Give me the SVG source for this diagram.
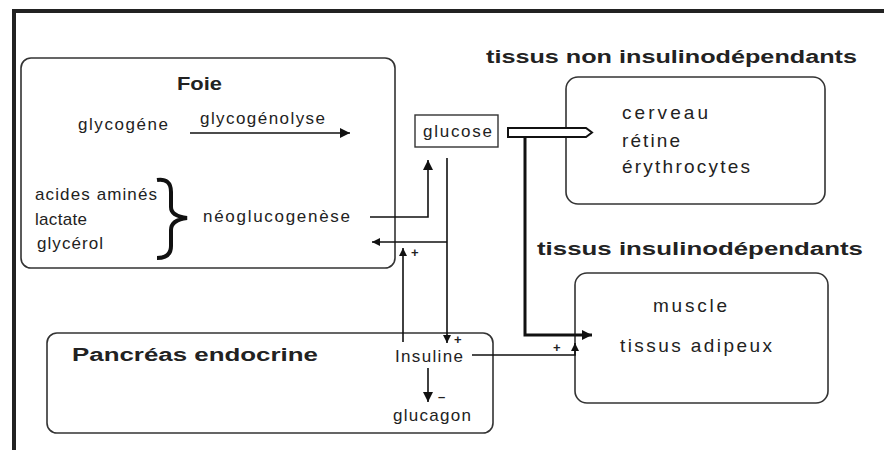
<svg xmlns="http://www.w3.org/2000/svg" width="884" height="450" viewBox="0 0 884 450">
<style>
  .box{fill:#fff;stroke:#333;stroke-width:1.6}
  .t{font-family:"Liberation Sans",Arial,sans-serif;font-size:17px;fill:#222}
  .r{font-size:19px}
  .b{font-family:"Liberation Sans",Arial,sans-serif;font-size:18px;font-weight:bold;fill:#222}
  .s{font-family:"Liberation Sans",Arial,sans-serif;font-size:13px;font-weight:bold;fill:#222}
  .ln{fill:none;stroke:#111;stroke-width:1.6}
  .thick{fill:none;stroke:#111;stroke-width:3}
</style>
<defs>
  <marker id="ah" markerUnits="userSpaceOnUse" markerWidth="12" markerHeight="12" refX="10" refY="5" orient="auto">
    <path d="M0,0 L10,5 L0,10 Z" fill="#111"/>
  </marker>
  <marker id="ahs" markerUnits="userSpaceOnUse" markerWidth="10" markerHeight="10" refX="8" refY="4" orient="auto">
    <path d="M0,0 L8,4 L0,8 Z" fill="#111"/>
  </marker>
</defs>
<rect width="884" height="450" fill="#fff"/>
<g id="frame">
  <path d="M14,450 V11 H884" fill="none" stroke="#222" stroke-width="4"/>
</g>
<g id="foie">
  <rect class="box" x="21" y="58" width="374" height="210" rx="10"/>
  <text class="b" x="177" y="90" font-size="19" textLength="45" lengthAdjust="spacingAndGlyphs">Foie</text>
  <text class="t" x="78" y="130" textLength="90" lengthAdjust="spacing">glycogéne</text>
  <text class="t" x="200" y="124" textLength="125" lengthAdjust="spacing">glycogénolyse</text>
  <text class="t" x="35" y="200" textLength="122" lengthAdjust="spacing">acides aminés</text>
  <text class="t" x="35" y="225" textLength="52" lengthAdjust="spacing">lactate</text>
  <text class="t" x="37" y="249" textLength="66" lengthAdjust="spacing">glycérol</text>
  <text class="t" x="203" y="222" textLength="147" lengthAdjust="spacing">néoglucogenèse</text>
  <path d="M157,180 Q171,178 171,192 L171,207 Q171,216 187,218 Q171,220 171,230 L171,246 Q171,258 157,258" fill="none" stroke="#111" stroke-width="4"/>
</g>
<g id="glucose">
  <rect x="415" y="115" width="83" height="32" fill="#fff" stroke="#333" stroke-width="1.4"/>
  <text class="t" x="423" y="137" textLength="69" lengthAdjust="spacing">glucose</text>
</g>
<g id="tissus-non-insulinodependants">
  <text class="b" x="486" y="63" textLength="371" lengthAdjust="spacingAndGlyphs">tissus non insulinodépendants</text>
  <rect class="box" x="566" y="77" width="259" height="127" rx="12"/>
  <text class="t r" x="622" y="119" textLength="86" lengthAdjust="spacing">cerveau</text>
  <text class="t r" x="622" y="147" textLength="58" lengthAdjust="spacing">rétine</text>
  <text class="t r" x="622" y="173" textLength="128" lengthAdjust="spacing">érythrocytes</text>
</g>
<g id="tissus-insulinodependants">
  <text class="b" x="537" y="255" textLength="326" lengthAdjust="spacingAndGlyphs">tissus insulinodépendants</text>
  <rect class="box" x="575" y="273" width="253" height="130" rx="12"/>
  <text class="t r" x="653" y="312" textLength="74" lengthAdjust="spacing">muscle</text>
  <text class="t r" x="620" y="352" textLength="152" lengthAdjust="spacing">tissus adipeux</text>
</g>
<g id="pancreas">
  <rect class="box" x="47" y="333" width="446" height="100" rx="10"/>
  <text class="b" x="72" y="361" font-size="19" textLength="246" lengthAdjust="spacingAndGlyphs">Pancréas endocrine</text>
  <text class="t" x="395" y="362" textLength="68" lengthAdjust="spacing">Insuline</text>
  <text class="t" x="393" y="421" textLength="78" lengthAdjust="spacing">glucagon</text>
</g>
<g id="connectors">
  <path class="ln" d="M190,133 H350" marker-end="url(#ah)"/>
  <path class="ln" d="M370,217 H428 V160" marker-end="url(#ah)"/>
  <path class="ln" d="M447,158 V343" marker-end="url(#ahs)"/>
  <path class="ln" d="M447,242 H372" marker-end="url(#ahs)"/>
  <path class="ln" d="M403,342 V248" marker-end="url(#ahs)"/>
  <path class="ln" d="M428,368 V402" marker-end="url(#ah)"/>
  <path class="ln" d="M472,355 H575 V343" marker-end="url(#ahs)"/>
  <path d="M508,128 H586 L592,132.5 L586,137 H508 Z" fill="#fff" stroke="#111" stroke-width="2"/>
  <path class="thick" d="M525,137 V335 H592" marker-end="url(#ah)"/>
  <text class="s" x="411" y="257">+</text>
  <text class="s" x="454" y="344">+</text>
  <text class="s" x="553" y="352">+</text>
  <text class="s" x="438" y="401">–</text>
</g>
</svg>
